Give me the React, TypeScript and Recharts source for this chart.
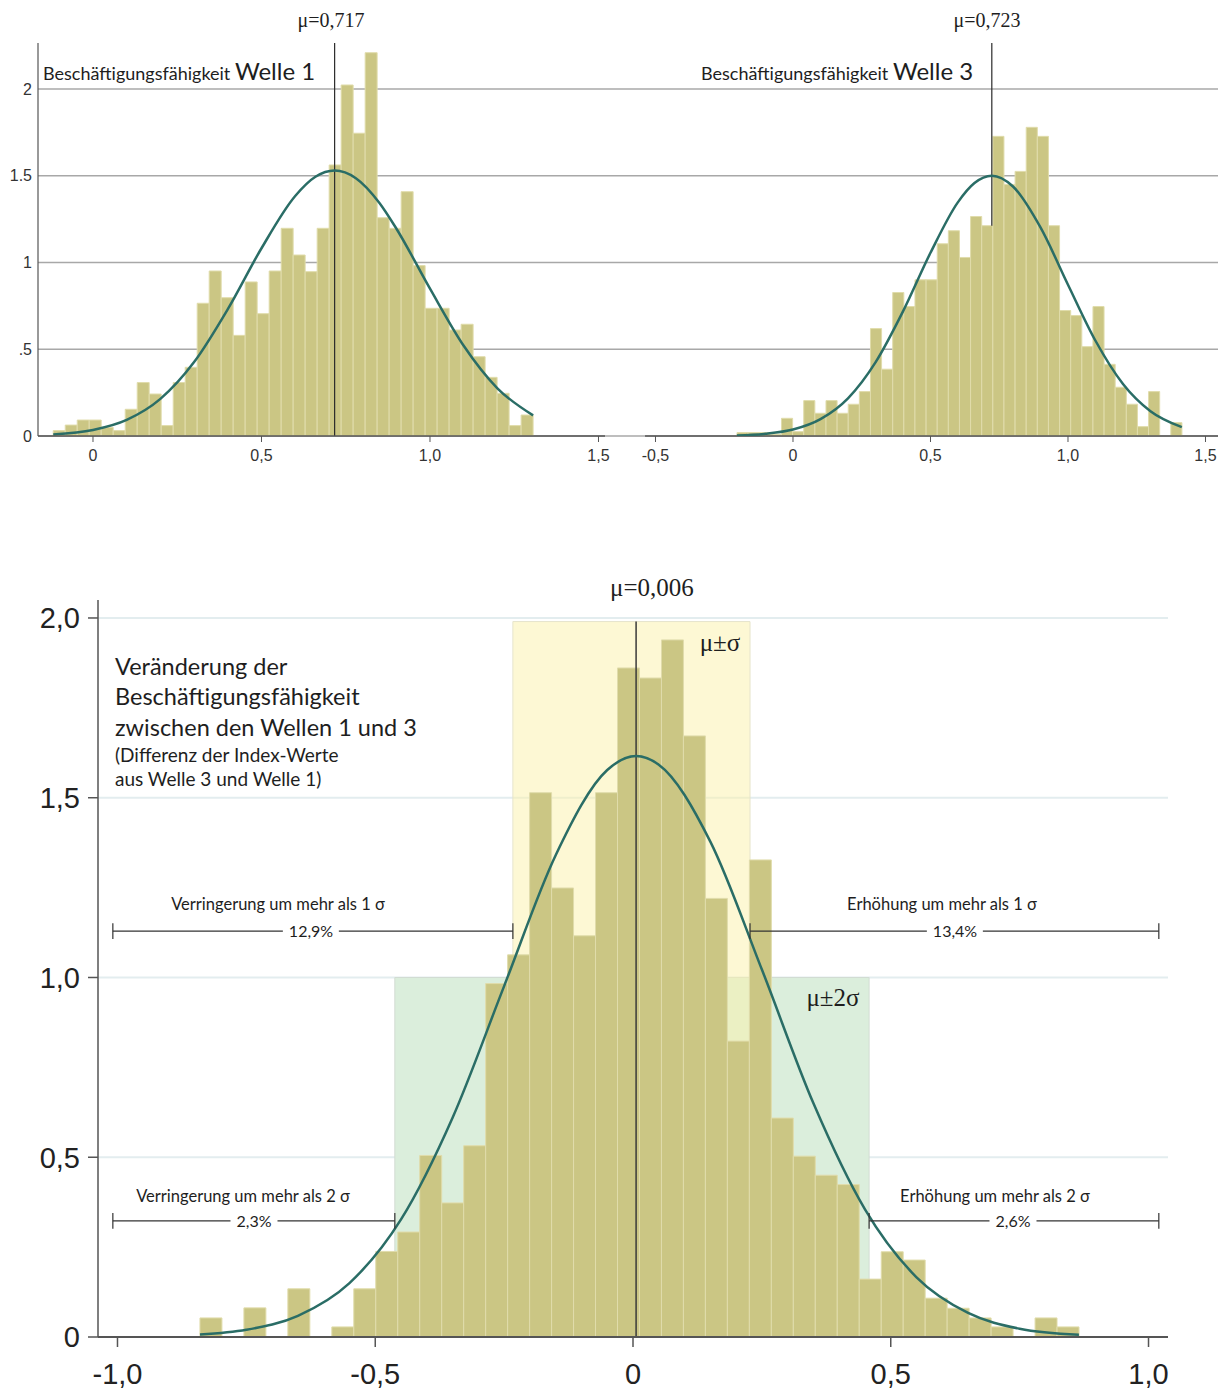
import React from 'react';
import {
  ComposedChart,
  Bar,
  Line,
  XAxis,
  YAxis,
  CartesianGrid,
  ReferenceLine,
  ReferenceArea,
} from 'recharts';

// Welle 1: 40 bins (density) + fitted normal curve
const W1_BIN_START = -0.118;
const W1_BIN_WIDTH = 0.0356;
const W1_DENSITY = [
  0.031, 0.063, 0.092, 0.092, 0.05, 0.031, 0.154, 0.308, 0.242, 0.06,
  0.308, 0.396, 0.765, 0.951, 0.797, 0.58, 0.888, 0.705, 0.951, 1.197,
  1.043, 0.947, 1.197, 1.562, 2.023, 1.745, 2.209, 1.258, 1.197, 1.408,
  0.982, 0.736, 0.736, 0.611, 0.644, 0.457, 0.338, 0.246, 0.06, 0.121,
];
const W1_MEAN = 0.717;
const W1_FIT_X = [-0.118, 0, 0.1, 0.2, 0.3, 0.4, 0.5, 0.6, 0.66, 0.717, 0.78, 0.85, 0.9, 1.0, 1.1, 1.2, 1.306];
const W1_FIT_Y = [0.009, 0.035, 0.093, 0.214, 0.426, 0.731, 1.082, 1.383, 1.494, 1.53, 1.486, 1.343, 1.196, 0.849, 0.52, 0.275, 0.119];

// Welle 3
const W3_BIN_START = -0.2036;
const W3_BIN_WIDTH = 0.04045;
const W3_DENSITY = [
  0.02, 0.02, 0.02, 0.01, 0.102, 0.025, 0.204, 0.131, 0.204, 0.131,
  0.183, 0.256, 0.619, 0.385, 0.827, 0.746, 0.9, 0.9, 1.108, 1.183,
  1.029, 1.265, 1.212, 1.727, 1.45, 1.525, 1.779, 1.727, 1.212, 0.723,
  0.694, 0.515, 0.746, 0.413, 0.281, 0.183, 0.054, 0.256, 0, 0.077,
];
const W3_MEAN = 0.723;
const W3_FIT_X = [-0.204, -0.1, 0, 0.1, 0.2, 0.3, 0.4, 0.5, 0.6, 0.66, 0.723, 0.8, 0.9, 1.0, 1.1, 1.2, 1.3, 1.414];
const W3_FIT_Y = [0.003, 0.0125, 0.037, 0.097, 0.217, 0.424, 0.718, 1.056, 1.348, 1.458, 1.5, 1.438, 1.202, 0.872, 0.549, 0.3, 0.143, 0.051];

// Differenz Welle 3 - Welle 1
const DIFF_BIN_START = -0.84;
const DIFF_BIN_WIDTH = 0.04263;
const DIFF_DENSITY = [
  0.053, 0, 0.081, 0, 0.134, 0, 0.028, 0.134, 0.238, 0.292,
  0.505, 0.373, 0.532, 0.983, 1.063, 1.514, 1.249, 1.116, 1.514, 1.861,
  1.833, 1.939, 1.672, 1.22, 0.823, 1.327, 0.609, 0.503, 0.45, 0.424,
  0.161, 0.237, 0.214, 0.108, 0.08, 0.053, 0.028, 0, 0.053, 0.028,
];
const DIFF_MEAN = 0.006;
const DIFF_FIT_X = [-0.84, -0.75, -0.65, -0.55, -0.45, -0.35, -0.25, -0.15, -0.05, 0.006, 0.05, 0.15, 0.25, 0.35, 0.45, 0.55, 0.65, 0.75, 0.865];
const DIFF_FIT_Y = [0.007, 0.02, 0.059, 0.15, 0.327, 0.61, 0.976, 1.34, 1.577, 1.616, 1.592, 1.378, 1.022, 0.65, 0.355, 0.166, 0.067, 0.023, 0.006];
const DIFF_SIGMA_BAND = [-0.233, 0.227];
const DIFF_2SIGMA_BAND = [-0.462, 0.458];
const DIFF_BAND_TOPS = [1.99, 1.0];
const DIFF_TAIL_LIMITS = [-1.009, 1.02];
const DIFF_TAIL_LEVELS = [1.129, 0.323];

// ticks
const TOP_Y_TICKS = [0, 0.5, 1, 1.5, 2];
const TOP_Y_LABELS = ['0', '.5', '1', '1.5', '2'];
const W1_X_TICKS = [0, 0.5, 1, 1.5];
const W3_X_TICKS = [-0.5, 0, 0.5, 1, 1.5];
const DIFF_X_TICKS = [-1, -0.5, 0, 0.5, 1];
const DIFF_Y_TICKS = [0, 0.5, 1, 1.5, 2];

const W1_DOMAIN: [number, number] = [-0.1632, 1.5193];
const W3_DOMAIN: [number, number] = [-0.6836, 1.5455];
const W3_AXIS_START = -0.538;
const TOP_Y_DOMAIN: [number, number] = [0, 2.265];
const DIFF_DOMAIN: [number, number] = [-1.0378, 1.0378];
const DIFF_Y_DOMAIN: [number, number] = [0, 2.05];

const BAR_FILL = '#cbc684';
const BAR_EDGE = '#e0dcab';
const FIT_COLOR = '#2a6d66';
const SERIF = '"Liberation Serif", "Times New Roman", serif';
const SANS = '"Liberation Sans", Arial, sans-serif';
const TEXT_FONT = 'Lato, "Open Sans", sans-serif';

const bins = (start: number, width: number, density: number[]) =>
  density.map((y, i) => ({ x: start + (i + 0.5) * width, y }));
const curve = (xs: number[], ys: number[]) => xs.map((x, i) => ({ x, y: ys[i] }));

const decimalComma = (v: number) => (v === 0 ? '0' : v.toFixed(1).replace('.', ','));
const stataLabel = (v: number) => TOP_Y_LABELS[TOP_Y_TICKS.indexOf(v)] ?? String(v);

// bar width in px so that neighbouring bins touch
const binPx = (plotWidth: number, domain: [number, number], binWidth: number) =>
  (plotWidth * binWidth) / (domain[1] - domain[0]) - 0.02;

const smallTick = { fill: '#333', fontSize: 16, fontFamily: SANS };
const bigTick = { fill: '#222', fontSize: 29, fontFamily: SANS };

function WaveOne() {
  return (
    <ComposedChart
      width={610}
      height={475}
      data={bins(W1_BIN_START, W1_BIN_WIDTH, W1_DENSITY)}
      margin={{ top: 43, right: 5, bottom: 0, left: 0 }}
      barGap={0}
      barCategoryGap={0}
    >
      <CartesianGrid vertical={false} syncWithTicks horizontalValues={TOP_Y_TICKS} stroke="#a8a8a8" strokeWidth={1.5} />
      <XAxis
        type="number"
        dataKey="x"
        domain={W1_DOMAIN}
        allowDataOverflow
        ticks={W1_X_TICKS}
        interval={0}
        tickFormatter={decimalComma}
        height={39}
        axisLine={{ stroke: '#555', strokeWidth: 1.5 }}
        tickLine={{ stroke: '#555' }}
        tickSize={6}
        tickMargin={8}
        tick={smallTick}
      />
      <XAxis xAxisId="fit" type="number" dataKey="x" domain={W1_DOMAIN} allowDataOverflow hide />
      <YAxis
        type="number"
        domain={TOP_Y_DOMAIN}
        allowDataOverflow
        ticks={TOP_Y_TICKS}
        interval={0}
        tickFormatter={stataLabel}
        width={38}
        axisLine={{ stroke: '#555', strokeWidth: 1.2 }}
        tickLine={false}
        tickSize={6}
        tickMargin={0}
        tick={smallTick}
      />
      <Bar
        dataKey="y"
        fill={BAR_FILL}
        stroke={BAR_EDGE}
        barSize={binPx(567, W1_DOMAIN, W1_BIN_WIDTH)}
        isAnimationActive={false}
      />
      <ReferenceLine x={W1_MEAN} stroke="#2b2b2b" strokeWidth={1.2} />
      <Line
        xAxisId="fit"
        data={curve(W1_FIT_X, W1_FIT_Y)}
        dataKey="y"
        type="monotone"
        stroke={FIT_COLOR}
        strokeWidth={2.5}
        dot={false}
        activeDot={false}
        isAnimationActive={false}
      />
    </ComposedChart>
  );
}

function WaveThree() {
  const data = bins(W3_BIN_START, W3_BIN_WIDTH, W3_DENSITY);
  // the mean line disappears behind the bin it falls into
  const hit = data.find((d) => Math.abs(d.x - W3_MEAN) <= W3_BIN_WIDTH / 2);
  const lineFloor = hit ? hit.y : 0;
  return (
    <ComposedChart
      width={617}
      height={475}
      data={data}
      margin={{ top: 43, right: 4, bottom: 0, left: 0 }}
      barGap={0}
      barCategoryGap={0}
    >
      <CartesianGrid vertical={false} syncWithTicks horizontalValues={TOP_Y_TICKS} stroke="#a8a8a8" strokeWidth={1.5} />
      <XAxis
        type="number"
        dataKey="x"
        domain={W3_DOMAIN}
        allowDataOverflow
        ticks={W3_X_TICKS}
        interval={0}
        tickFormatter={decimalComma}
        height={39}
        axisLine={false}
        tickLine={{ stroke: '#555' }}
        tickSize={6}
        tickMargin={8}
        tick={smallTick}
      />
      <XAxis xAxisId="fit" type="number" dataKey="x" domain={W3_DOMAIN} allowDataOverflow hide />
      <YAxis type="number" domain={TOP_Y_DOMAIN} allowDataOverflow ticks={TOP_Y_TICKS} hide />
      <ReferenceLine
        segment={[{ x: W3_MEAN, y: lineFloor }, { x: W3_MEAN, y: TOP_Y_DOMAIN[1] }]}
        stroke="#2b2b2b"
        strokeWidth={1.2}
      />
      <Bar
        dataKey="y"
        fill={BAR_FILL}
        stroke={BAR_EDGE}
        barSize={binPx(613, W3_DOMAIN, W3_BIN_WIDTH)}
        isAnimationActive={false}
      />
      <ReferenceLine
        segment={[{ x: W3_AXIS_START, y: 0 }, { x: W3_DOMAIN[1], y: 0 }]}
        stroke="#555"
        strokeWidth={1.5}
      />
      <Line
        xAxisId="fit"
        data={curve(W3_FIT_X, W3_FIT_Y)}
        dataKey="y"
        type="monotone"
        stroke={FIT_COLOR}
        strokeWidth={2.5}
        dot={false}
        activeDot={false}
        isAnimationActive={false}
      />
    </ComposedChart>
  );
}

function Difference() {
  const tails = [
    [DIFF_TAIL_LIMITS[0], DIFF_SIGMA_BAND[0], DIFF_TAIL_LEVELS[0]],
    [DIFF_SIGMA_BAND[1], DIFF_TAIL_LIMITS[1], DIFF_TAIL_LEVELS[0]],
    [DIFF_TAIL_LIMITS[0], DIFF_2SIGMA_BAND[0], DIFF_TAIL_LEVELS[1]],
    [DIFF_2SIGMA_BAND[1], DIFF_TAIL_LIMITS[1], DIFF_TAIL_LEVELS[1]],
  ];
  const bracketLines = tails.flatMap(([from, to, level], i) => [
    <ReferenceLine
      key={`b${i}`}
      segment={[{ x: from, y: level }, { x: to, y: level }]}
      stroke="#333"
      strokeWidth={1.2}
    />,
    ...[from, to].map((end, j) => (
      <ReferenceLine
        key={`b${i}e${j}`}
        segment={[{ x: end, y: level - 0.022 }, { x: end, y: level + 0.022 }]}
        stroke="#333"
        strokeWidth={1.2}
      />
    )),
  ]);

  return (
    <ComposedChart
      width={1222}
      height={830}
      data={bins(DIFF_BIN_START, DIFF_BIN_WIDTH, DIFF_DENSITY)}
      margin={{ top: 40, right: 54, bottom: 0, left: 0 }}
      barGap={0}
      barCategoryGap={0}
    >
      <CartesianGrid vertical={false} syncWithTicks horizontalValues={DIFF_Y_TICKS} stroke="#e3edef" strokeWidth={2} />
      <ReferenceArea
        x1={DIFF_2SIGMA_BAND[0]}
        x2={DIFF_2SIGMA_BAND[1]}
        y1={0}
        y2={DIFF_BAND_TOPS[1]}
        fill="#dbeedc"
        fillOpacity={1}
        stroke="#d2dcd3"
      />
      <ReferenceArea
        x1={DIFF_SIGMA_BAND[0]}
        x2={DIFF_SIGMA_BAND[1]}
        y1={0}
        y2={DIFF_BAND_TOPS[0]}
        fill="#fbf1a9"
        fillOpacity={0.5}
        stroke="#e6e4cc"
      />
      <XAxis
        type="number"
        dataKey="x"
        domain={DIFF_DOMAIN}
        allowDataOverflow
        ticks={DIFF_X_TICKS}
        interval={0}
        tickFormatter={decimalComma}
        height={53}
        axisLine={{ stroke: '#555', strokeWidth: 2 }}
        tickLine={{ stroke: '#555', strokeWidth: 1.5 }}
        tickSize={10}
        tickMargin={16}
        tick={bigTick}
      />
      <XAxis xAxisId="fit" type="number" dataKey="x" domain={DIFF_DOMAIN} allowDataOverflow hide />
      <YAxis
        type="number"
        domain={DIFF_Y_DOMAIN}
        allowDataOverflow
        ticks={DIFF_Y_TICKS}
        interval={0}
        tickFormatter={decimalComma}
        width={98}
        axisLine={{ stroke: '#555', strokeWidth: 1.5 }}
        tickLine={{ stroke: '#555', strokeWidth: 1.5 }}
        tickSize={10}
        tickMargin={8}
        tick={bigTick}
      />
      <Bar
        dataKey="y"
        fill={BAR_FILL}
        stroke={BAR_EDGE}
        barSize={binPx(1070, DIFF_DOMAIN, DIFF_BIN_WIDTH)}
        isAnimationActive={false}
      />
      <ReferenceLine
        segment={[{ x: DIFF_MEAN, y: 0 }, { x: DIFF_MEAN, y: DIFF_BAND_TOPS[0] }]}
        stroke="#3a3a3a"
        strokeWidth={1.5}
      />
      <Line
        xAxisId="fit"
        data={curve(DIFF_FIT_X, DIFF_FIT_Y)}
        dataKey="y"
        type="monotone"
        stroke={FIT_COLOR}
        strokeWidth={2.5}
        dot={false}
        activeDot={false}
        isAnimationActive={false}
      />
      {bracketLines}
    </ComposedChart>
  );
}

type NoteProps = {
  x: number;
  y: number;
  size: number;
  font?: string;
  left?: boolean;
  boxed?: boolean;
  children: React.ReactNode;
};

function Note({ x, y, size, font = TEXT_FONT, left = false, boxed = false, children }: NoteProps) {
  return (
    <div
      style={{
        position: 'absolute',
        left: x,
        top: y,
        transform: left ? 'translateY(-50%)' : 'translate(-50%, -50%)',
        fontSize: size,
        fontFamily: font,
        lineHeight: 1,
        whiteSpace: 'nowrap',
        color: '#1e1e1e',
        background: boxed ? '#fff' : 'transparent',
        padding: boxed ? '2px 6px' : 0,
      }}
    >
      {children}
    </div>
  );
}

export default function App() {
  return (
    <div style={{ position: 'absolute', left: 0, top: 0, width: 1222, height: 1390, background: '#fff', overflow: 'hidden' }}>
      <div style={{ position: 'absolute', left: 0, top: 0 }}>
        <WaveOne />
      </div>
      <div style={{ position: 'absolute', left: 605, top: 0 }}>
        <WaveThree />
      </div>
      <div style={{ position: 'absolute', left: 0, top: 560 }}>
        <Difference />
      </div>

      <Note x={331} y={20} size={20} font={SERIF}>μ=0,717</Note>
      <Note x={987} y={20} size={20} font={SERIF}>μ=0,723</Note>
      <Note x={43} y={71} size={18} left>
        Beschäftigungsfähigkeit <span style={{ fontSize: 24 }}>Welle 1</span>
      </Note>
      <Note x={701} y={71} size={18} left>
        Beschäftigungsfähigkeit <span style={{ fontSize: 24 }}>Welle 3</span>
      </Note>

      <Note x={652} y={587} size={25} font={SERIF}>μ=0,006</Note>
      <Note x={720} y={642} size={25} font={SERIF}>μ±σ</Note>
      <Note x={833} y={997} size={25} font={SERIF}>μ±2σ</Note>

      <Note x={115} y={667} size={23.5} left>Veränderung der</Note>
      <Note x={115} y={697} size={23.5} left>Beschäftigungsfähigkeit</Note>
      <Note x={115} y={728} size={23.5} left>zwischen den Wellen 1 und 3</Note>
      <Note x={115} y={754} size={19} left>(Differenz der Index-Werte</Note>
      <Note x={115} y={778} size={19} left>aus Welle 3 und Welle 1)</Note>

      <Note x={278} y={904} size={16.5}>Verringerung um mehr als 1 σ</Note>
      <Note x={311} y={931} size={16} boxed>12,9%</Note>
      <Note x={942} y={904} size={16.5}>Erhöhung um mehr als 1 σ</Note>
      <Note x={955} y={931} size={16} boxed>13,4%</Note>
      <Note x={243} y={1196} size={16.5}>Verringerung um mehr als 2 σ</Note>
      <Note x={254} y={1221} size={16} boxed>2,3%</Note>
      <Note x={995} y={1196} size={16.5}>Erhöhung um mehr als 2 σ</Note>
      <Note x={1013} y={1221} size={16} boxed>2,6%</Note>
    </div>
  );
}
